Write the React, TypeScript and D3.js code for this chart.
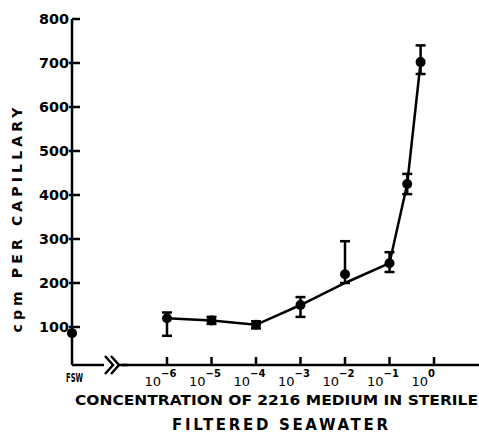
import React from 'react'
import * as d3 from 'd3'

const W = 479
const H = 435

// concentration of 2216 medium (fraction), measured cpm per capillary
const concentrations = [1e-6, 1e-5, 1e-4, 1e-3, 1e-2, 1e-1, 0.25, 0.5]
const cpm = [120, 115, 105, 150, 220, 245, 425, 702]
const errLow = [80, 107, 97, 123, 200, 225, 402, 675]
const errHigh = [133, 123, 113, 168, 295, 270, 448, 740]
// hand-drawn curve through the points
const curve = [120, 115, 105, 150, 200, 245, 425, 702]
const fswValue = 86

const yTicks = [100, 200, 300, 400, 500, 600, 700, 800]
const xTicks = [-6, -5, -4, -3, -2, -1, 0]

const font = '"DejaVu Sans", sans-serif'

const App: React.FC = () => {
  const x = d3.scaleLog().domain([1e-6, 1]).range([167, 434])
  const y = d3.scaleLinear().domain([0, 800]).range([371, 19])
  const axisX = 72
  const axisY = 365

  const line = d3
    .line<number>()
    .x((_, i) => x(concentrations[i]))
    .y((d) => y(d))

  return (
    <svg
      width={W}
      height={H}
      style={{ position: 'absolute', left: 0, top: 0, background: '#fff' }}
      fontFamily={font}
    >
      {/* y axis */}
      <line x1={axisX} x2={axisX} y1={y(800)} y2={axisY} stroke="#000" strokeWidth={2.5} />
      {yTicks.map((t) => (
        <g key={t}>
          <line
            x1={t === 800 ? axisX : axisX - 3}
            x2={axisX + 8}
            y1={y(t)}
            y2={y(t)}
            stroke="#000"
            strokeWidth={2.5}
          />
          <text
            x={axisX - 3}
            y={y(t) + 5}
            textAnchor="end"
            fontSize={14}
            fontWeight="bold"
            textLength={30}
            lengthAdjust="spacingAndGlyphs"
          >
            {t}
          </text>
        </g>
      ))}
      <text
        transform={`translate(22,220) rotate(-90)`}
        textAnchor="middle"
        fontSize={14}
        fontWeight="bold"
        textLength={225}
        lengthAdjust="spacing"
      >
        cpm PER CAPILLARY
      </text>

      {/* x axis with break */}
      <line x1={axisX} x2={W} y1={axisY} y2={axisY} stroke="#000" strokeWidth={2.5} />
      <rect x={104} y={355} width={18} height={20} fill="#fff" />
      <path
        d="M105,356 L113,365 L105,374 M111,356 L119,365 L111,374"
        fill="none"
        stroke="#000"
        strokeWidth={2.5}
      />
      <line x1={119} x2={128} y1={axisY} y2={axisY} stroke="#000" strokeWidth={2.5} />
      {xTicks.map((e) => {
        const tx = x(Math.pow(10, e))
        return (
          <g key={e}>
            <line x1={tx} x2={tx} y1={axisY - 8} y2={axisY} stroke="#000" strokeWidth={2.5} />
            <text x={tx - 6} y={386} textAnchor="end" fontSize={13}>
              10
            </text>
            <text x={tx - 6} y={377} textAnchor="start" fontSize={10} fontWeight="bold">
              {e === 0 ? '0' : `−${-e}`}
            </text>
          </g>
        )
      })}
      <text x={66} y={382} fontSize={12} fontWeight="bold" textLength={17} lengthAdjust="spacingAndGlyphs">
        FSW
      </text>
      <text
        x={75}
        y={405}
        fontSize={14}
        fontWeight="bold"
        textLength={403}
        lengthAdjust="spacingAndGlyphs"
      >
        CONCENTRATION OF 2216 MEDIUM IN STERILE
      </text>
      <text
        x={172}
        y={430}
        fontSize={15}
        fontWeight="bold"
        textLength={216}
        lengthAdjust="spacing"
      >
        FILTERED SEAWATER
      </text>

      {/* curve */}
      <path d={line(curve) ?? ''} fill="none" stroke="#000" strokeWidth={2.5} />

      {/* error bars */}
      {concentrations.map((c, i) => (
        <g key={c} stroke="#000" strokeWidth={2.5}>
          <line x1={x(c)} x2={x(c)} y1={y(errLow[i])} y2={y(errHigh[i])} />
          <line x1={x(c) - 5} x2={x(c) + 5} y1={y(errLow[i])} y2={y(errLow[i])} />
          <line x1={x(c) - 5} x2={x(c) + 5} y1={y(errHigh[i])} y2={y(errHigh[i])} />
        </g>
      ))}

      {/* points */}
      {cpm.map((v, i) => (
        <circle key={i} cx={x(concentrations[i])} cy={y(v)} r={5} fill="#000" />
      ))}
      <circle cx={axisX} cy={y(fswValue)} r={5} fill="#000" />
    </svg>
  )
}

export default App
